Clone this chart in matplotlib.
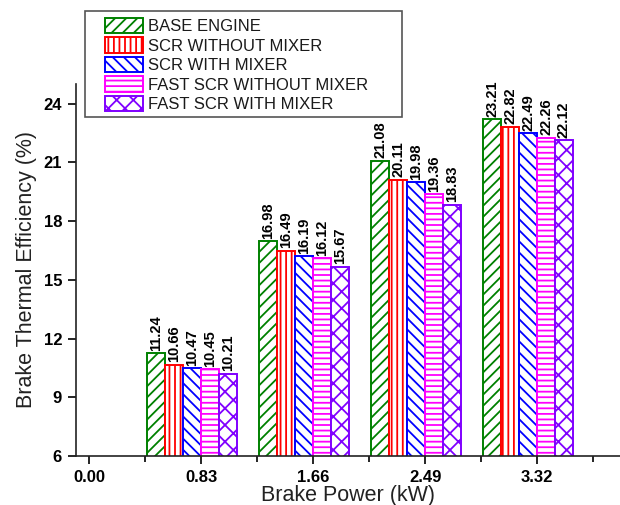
import matplotlib
matplotlib.use("Agg")
import matplotlib.pyplot as plt
from matplotlib.patches import Rectangle
import numpy as np

categories = ["0.00", "0.83", "1.66", "2.49", "3.32"]
series_names = ["BASE ENGINE", "SCR WITHOUT MIXER", "SCR WITH MIXER",
                "FAST SCR WITHOUT MIXER", "FAST SCR WITH MIXER"]
base_engine = [11.24, 16.98, 21.08, 23.21]
scr_without_mixer = [10.66, 16.49, 20.11, 22.82]
scr_with_mixer = [10.47, 16.19, 19.98, 22.49]
fast_scr_without_mixer = [10.45, 16.12, 19.36, 22.26]
fast_scr_with_mixer = [10.21, 15.67, 18.83, 22.12]
bar_categories = [1, 2, 3, 4]  # indices into categories (0.00 has no bars)

series = [base_engine, scr_without_mixer, scr_with_mixer,
          fast_scr_without_mixer, fast_scr_with_mixer]
colors = ["#008000", "#ff0000", "#0000ff", "#ff00ff", "#8000ff"]
hatches = ["///", "|||", "\\\\\\", "---", "xx"]

plt.rcParams['font.family'] = ['Liberation Sans', 'DejaVu Sans']
plt.rcParams['hatch.linewidth'] = 1.3

fig = plt.figure(figsize=(6.2, 5.05), dpi=100)
ax = fig.add_axes([76/620, 49/505, 544/620, 372/505])

w = 0.16
x = np.array(bar_categories, dtype=float)
for i, (vals, c, h, name) in enumerate(zip(series, colors, hatches, series_names)):
    pos = x + (i - 2.5) * w
    bars = ax.bar(pos, vals, width=w, facecolor="white", edgecolor=c,
                  hatch=h, linewidth=1.4, label=name, zorder=2)
    for b, v in zip(bars, vals):
        ax.text(b.get_x() + b.get_width() / 2, v + 0.12, f"{v:.2f}",
                rotation=90, ha="center", va="bottom", fontsize=10.5,
                fontweight="bold", color="black")

ax.set_xlim(-0.116, 4.74)
ax.set_ylim(6, 25)
ax.set_xticks(range(len(categories)))
ax.set_xticklabels(categories)
ax.set_xticks(np.arange(0.5, 5.0, 1.0), minor=True)
ax.set_yticks(np.arange(6, 25, 3))

for s in ["top", "right"]:
    ax.spines[s].set_visible(False)
for s in ["left", "bottom"]:
    ax.spines[s].set_linewidth(1.2)
    ax.spines[s].set_color("#222222")

ax.tick_params(axis="both", which="major", direction="out", length=6, width=1.2,
               labelsize=12, pad=4)
ax.tick_params(axis="x", which="minor", direction="out", length=4, width=1.2)
for lab in ax.get_xticklabels() + ax.get_yticklabels():
    lab.set_fontweight("bold")

ax.set_xlabel("Brake Power (kW)", fontsize=15.5, labelpad=0, color="#222222")
ax.set_ylabel("Brake Thermal Efficiency (%)", fontsize=15.5, labelpad=5, color="#222222")

leg = ax.legend(loc="upper left", bbox_to_anchor=(105/620, 1 - 18/505),
                bbox_transform=fig.transFigure, frameon=False, fontsize=12,
                handlelength=2.25, handleheight=1.05, handletextpad=0.3,
                labelspacing=0.18, borderpad=0.0, borderaxespad=0.0)
leg.set_zorder(6)
for t in leg.get_texts():
    t.set_color("#1a1a1a")

ax.add_patch(Rectangle((85/620, 1 - 117/505), (402 - 85)/620, (117 - 11)/505,
                       transform=fig.transFigure, facecolor="white",
                       edgecolor="#555555", linewidth=1.2, zorder=5, clip_on=False))

fig.savefig("out.png", dpi=100)
